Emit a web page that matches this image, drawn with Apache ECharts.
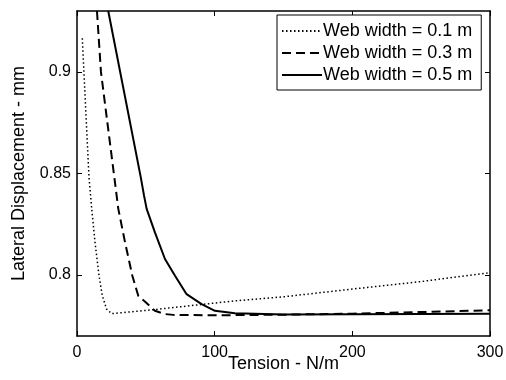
<!DOCTYPE html>
<html>
<head>
<meta charset="utf-8">
<script src="https://cdn.jsdelivr.net/npm/echarts@6/dist/echarts.min.js"></script>
<style>
  html, body { margin: 0; padding: 0; background: #fff; }
  #main { width: 506px; height: 380px; }
</style>
</head>
<body>
<div id="main"></div>
<script>
// tension (N/m) and lateral displacement (mm)
const tension01 = [3.85, 8.7, 10.7, 13.1, 16, 18.4, 21.5, 25.2, 59, 114.7, 150, 200, 250, 300];
const disp01 = [0.9166, 0.8482, 0.8326, 0.8161, 0.7997, 0.7898, 0.7832, 0.781, 0.7832, 0.7873, 0.7893, 0.7931, 0.7968, 0.8012];

const tension03 = [14.5, 17.4, 27.1, 30, 34.9, 40.2, 44.5, 50.1, 56.6, 63.9, 70, 100, 150, 200, 250, 300];
const disp03 = [0.93, 0.9, 0.8482, 0.8326, 0.8161, 0.7997, 0.7898, 0.7865, 0.7824, 0.7808, 0.7804, 0.7802, 0.7805, 0.781, 0.7818, 0.7827];

const tension05 = [22.7, 46.3, 48.7, 50.6, 56.6, 63.9, 71.2, 79.6, 90.5, 100.2, 114.7, 150, 200, 250, 300];
const disp05 = [0.93, 0.8482, 0.8391, 0.8326, 0.821, 0.8079, 0.7997, 0.7906, 0.7857, 0.7824, 0.7812, 0.7806, 0.7807, 0.7808, 0.781];

const seriesNames = ['Web width = 0.1 m', 'Web width = 0.3 m', 'Web width = 0.5 m'];
const xTicks = [0, 100, 200, 300];
const yTicks = [0.8, 0.85, 0.9];

const pairs = (xs, ys) => xs.map((x, i) => [x, ys[i]]);
const font = 'Liberation Sans, Arial, sans-serif';

const chart = echarts.init(document.getElementById('main'));

const xBase = {
  type: 'value', min: 0, max: 300,
  axisLine: { show: true, onZero: false, lineStyle: { color: '#000', width: 1.5 } },
  axisTick: { show: true, inside: true, length: 5, customValues: xTicks, lineStyle: { color: '#000' } },
  splitLine: { show: false }
};
const yBase = {
  type: 'value', min: 0.77, max: 0.93,
  axisLine: { show: true, onZero: false, lineStyle: { color: '#000', width: 1.5 } },
  axisTick: { show: true, inside: true, length: 5, customValues: yTicks, lineStyle: { color: '#000' } },
  splitLine: { show: false }
};

chart.setOption({
  animation: false,
  backgroundColor: '#fff',
  textStyle: { fontFamily: font },
  grid: { left: 77, top: 11, right: 16, bottom: 44, containLabel: false, outerBoundsMode: 'none' },
  legend: {
    data: seriesNames,
    orient: 'vertical',
    left: 277,
    top: 15,
    itemWidth: 40,
    itemHeight: 12,
    itemGap: 4,
    padding: [7, 9, 6, 4],
    borderColor: '#000',
    borderWidth: 1,
    backgroundColor: '#fff',
    itemStyle: { color: 'transparent', borderColor: 'transparent', borderWidth: 0, opacity: 0 },
    textStyle: { fontSize: 18, color: '#000', fontFamily: font, padding: [0, 0, 0, -4] }
  },
  xAxis: [
    Object.assign({}, xBase, {
      position: 'bottom',
      name: 'Tension - N/m',
      nameLocation: 'middle',
      nameGap: 19,
      nameMoveOverlap: false,
      nameTextStyle: { fontSize: 18, color: '#000', fontFamily: font },
      axisLabel: { show: true, margin: 9, customValues: xTicks, fontSize: 16, color: '#000', fontFamily: font }
    }),
    Object.assign({}, xBase, { position: 'top', axisLabel: { show: false } })
  ],
  yAxis: [
    Object.assign({}, yBase, {
      position: 'left',
      name: 'Lateral Displacement - mm',
      nameLocation: 'middle',
      nameGap: 49,
      nameMoveOverlap: false,
      nameTextStyle: { fontSize: 18, color: '#000', fontFamily: font },
      axisLabel: {
        show: true, margin: 6, customValues: yTicks, fontSize: 16, color: '#000', fontFamily: font,
        formatter: v => String(+v.toFixed(2))
      }
    }),
    Object.assign({}, yBase, { position: 'right', axisLabel: { show: false } })
  ],
  series: [
    {
      name: seriesNames[0], type: 'line', data: pairs(tension01, disp01),
      showSymbol: false, symbol: 'none', clip: true,
      lineStyle: { color: '#000', width: 1.5, type: [1.5, 2.5] }
    },
    {
      name: seriesNames[1], type: 'line', data: pairs(tension03, disp03),
      showSymbol: false, symbol: 'none', clip: true,
      lineStyle: { color: '#000', width: 2, type: [9, 5] }
    },
    {
      name: seriesNames[2], type: 'line', data: pairs(tension05, disp05),
      showSymbol: false, symbol: 'none', clip: true,
      lineStyle: { color: '#000', width: 2, type: 'solid' }
    }
  ]
});
</script>
</body>
</html>
